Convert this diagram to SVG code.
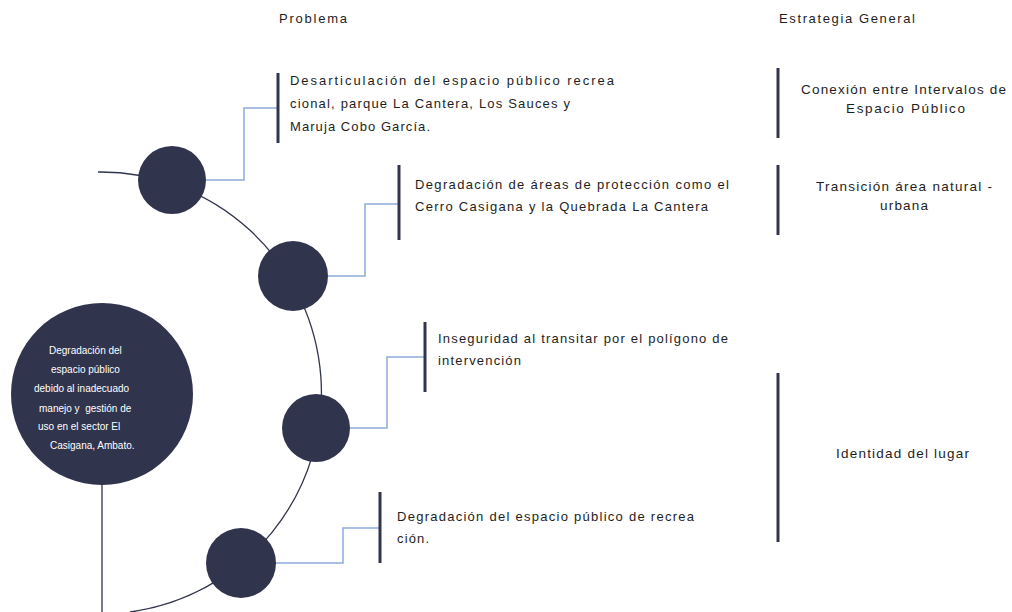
<svg xmlns="http://www.w3.org/2000/svg" width="1012" height="612" viewBox="0 0 1012 612">
<style>
.t{font-family:"Liberation Sans",Arial,sans-serif;font-size:13px;fill:#1e1e1e}
.c{font-family:"Liberation Sans",Arial,sans-serif;font-size:13.5px;fill:#1e1e1e}
.w{font-family:"Liberation Sans",Arial,sans-serif;font-size:10px;fill:#ffffff;white-space:pre}
.node{fill:#30344D}
.bar{stroke:#30344D;stroke-width:3;fill:none}
.con{stroke:#8EAADB;stroke-width:1.5;fill:none}
.arc{stroke:#30344D;stroke-width:1.3;fill:none}
</style>
<rect width="1012" height="612" fill="#ffffff"/>
<g id="headers">
<text class="t" x="279" y="23" textLength="68" lengthAdjust="spacing">Problema</text>
<text class="t" x="779" y="23" textLength="136" lengthAdjust="spacing">Estrategia General</text>
</g>
<g id="connectors">
<path class="arc" d="M98,172 A221,221 0 0 1 130,612"/>
<line class="arc" x1="102" y1="480" x2="102" y2="612"/>
<polyline class="con" points="204,180 244,180 244,108 278,108"/>
<polyline class="con" points="326,276 365,276 365,204 399,204"/>
<polyline class="con" points="348,428 387,428 387,357 425,357"/>
<polyline class="con" points="274,563 343,563 343,528 380,528"/>
</g>
<g id="main-node">
<circle class="node" cx="102" cy="394" r="91"/>
<text class="w" x="49" y="354">Degradación del</text>
<text class="w" x="51" y="373">espacio público</text>
<text class="w" x="34" y="392">debido al inadecuado</text>
<text class="w" x="39" y="412" xml:space="preserve">manejo y  gestión de</text>
<text class="w" x="38" y="430">uso en el sector El</text>
<text class="w" x="50" y="449">Casigana, Ambato.</text>
</g>
<g id="node1"><circle class="node" cx="172" cy="180" r="34"/></g>
<g id="node2"><circle class="node" cx="293" cy="276" r="35"/></g>
<g id="node3"><circle class="node" cx="316" cy="428" r="34"/></g>
<g id="node4"><circle class="node" cx="241" cy="563" r="35"/></g>
<g id="problem1">
<line class="bar" x1="278" y1="73" x2="278" y2="143"/>
<text class="t" x="290" y="85" textLength="324" lengthAdjust="spacing">Desarticulación del espacio público recrea</text>
<text class="t" x="290" y="108" textLength="280" lengthAdjust="spacing">cional, parque La Cantera, Los Sauces y</text>
<text class="t" x="290" y="131" textLength="140" lengthAdjust="spacing">Maruja Cobo García.</text>
</g>
<g id="problem2">
<line class="bar" x1="399" y1="165" x2="399" y2="240"/>
<text class="t" x="415" y="189" textLength="314" lengthAdjust="spacing">Degradación de áreas de protección como el</text>
<text class="t" x="415" y="211" textLength="293" lengthAdjust="spacing">Cerro Casigana y la Quebrada La Cantera</text>
</g>
<g id="problem3">
<line class="bar" x1="425" y1="322" x2="425" y2="392"/>
<text class="t" x="438" y="343" textLength="290" lengthAdjust="spacing">Inseguridad al transitar por el polígono de</text>
<text class="t" x="438" y="365" textLength="83" lengthAdjust="spacing">intervención</text>
</g>
<g id="problem4">
<line class="bar" x1="380" y1="492" x2="380" y2="563"/>
<text class="t" x="397" y="521" textLength="297" lengthAdjust="spacing">Degradación del espacio público de recrea</text>
<text class="t" x="397" y="543" textLength="32" lengthAdjust="spacing">ción.</text>
</g>
<g id="strategy1">
<line class="bar" x1="778" y1="68" x2="778" y2="138"/>
<text class="c" x="801" y="94" textLength="205" lengthAdjust="spacing">Conexión entre Intervalos de</text>
<text class="c" x="846" y="113" textLength="119" lengthAdjust="spacing">Espacio Público</text>
</g>
<g id="strategy2">
<line class="bar" x1="778" y1="165" x2="778" y2="235"/>
<text class="c" x="816" y="191" textLength="176" lengthAdjust="spacing">Transición área natural -</text>
<text class="c" x="880" y="210" textLength="48" lengthAdjust="spacing">urbana</text>
</g>
<g id="strategy3">
<line class="bar" x1="778" y1="373" x2="778" y2="542"/>
<text class="c" x="836" y="458" textLength="133" lengthAdjust="spacing">Identidad del lugar</text>
</g>
</svg>
